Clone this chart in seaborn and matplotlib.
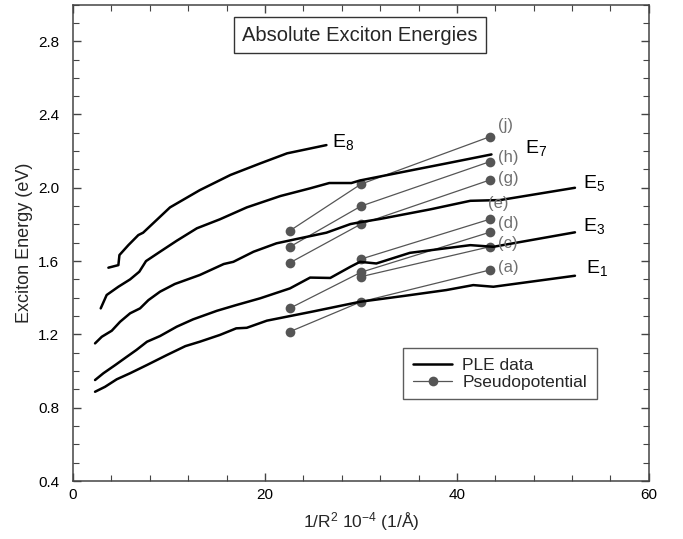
import matplotlib
matplotlib.use("Agg")
import matplotlib.pyplot as plt
from matplotlib.lines import Line2D
import seaborn as sns
import pandas as pd

# ---- PLE data (exciton energies vs 1/R^2) ----
e1_x = [2.29, 3.33, 4.55, 5.94, 7.7, 9.76, 11.7, 13.2, 15.3, 17.0, 18.1, 20.2, 22.6, 25.0, 29.9, 34.5, 38.9, 41.7, 43.8, 52.3]
e1_y = [0.887, 0.914, 0.955, 0.988, 1.033, 1.087, 1.136, 1.16, 1.197, 1.233, 1.236, 1.275, 1.30, 1.325, 1.378, 1.41, 1.442, 1.469, 1.46, 1.52]

e3_x = [2.29, 3.16, 4.4, 5.6, 6.6, 7.7, 9.06, 10.8, 12.5, 15.0, 17.0, 19.5, 22.6, 24.7, 26.8, 28.9, 29.9, 31.6, 35.1, 41.4, 43.8, 52.3]
e3_y = [0.951, 0.988, 1.033, 1.078, 1.115, 1.16, 1.191, 1.242, 1.282, 1.329, 1.36, 1.397, 1.451, 1.51, 1.508, 1.569, 1.596, 1.587, 1.645, 1.687, 1.678, 1.757]

e5_x = [2.29, 2.99, 4.03, 4.9, 5.94, 6.98, 7.85, 9.06, 10.6, 13.2, 15.7, 16.7, 18.8, 21.2, 23.6, 26.4, 28.9, 29.9, 32.0, 37.2, 41.4, 44.5, 52.3]
e5_y = [1.151, 1.187, 1.22, 1.269, 1.315, 1.342, 1.387, 1.433, 1.475, 1.524, 1.584, 1.596, 1.651, 1.697, 1.724, 1.755, 1.802, 1.812, 1.83, 1.882, 1.929, 1.933, 2.0]

e7_x = [2.88, 3.5, 4.72, 5.94, 6.9, 7.6, 9.06, 10.8, 12.9, 15.3, 18.1, 21.6, 24.7, 26.7, 29.0, 29.9, 35.4, 38.9, 43.6]
e7_y = [1.342, 1.415, 1.46, 1.50, 1.542, 1.60, 1.651, 1.711, 1.779, 1.828, 1.893, 1.955, 1.997, 2.026, 2.026, 2.04, 2.097, 2.133, 2.182]

e8_x = [3.68, 4.72, 4.83, 5.76, 6.8, 7.3, 8.7, 10.1, 13.2, 16.4, 19.5, 22.3, 26.4]
e8_y = [1.564, 1.578, 1.633, 1.687, 1.742, 1.755, 1.824, 1.893, 1.987, 2.07, 2.133, 2.188, 2.233]

curve_names = ["E$_1$", "E$_3$", "E$_5$", "E$_7$", "E$_8$"]
curve_label_x = [53.4, 53.1, 53.1, 47.1, 27.0]
curve_label_y = [1.56, 1.79, 2.027, 2.217, 2.25]

# ---- Pseudopotential calculations ----
pp_names = ["(j)", "(h)", "(g)", "(d)", "", "(c)", "(a)"]
pp_x = [[22.6, 30.0, 43.4], [22.6, 30.0, 43.4], [22.6, 30.0, 43.4], [30.0, 43.4],
        [22.6, 30.0, 43.4], [30.0, 43.4], [22.6, 30.0, 43.4]]
pp_y = [[1.766, 2.02, 2.278], [1.678, 1.90, 2.142], [1.591, 1.802, 2.042], [1.611, 1.828],
        [1.343, 1.539, 1.757], [1.515, 1.678], [1.215, 1.378, 1.551]]
pp_label_y = [2.34, 2.167, 2.05, 1.806, None, 1.697, 1.565]
extra_label = "(e)"
extra_label_xy = (43.2, 1.915)

title = "Absolute Exciton Energies"
xlabel = "1/R$^2$ 10$^{-4}$ (1/Å)"
ylabel = "Exciton Energy (eV)"
legend_labels = ["PLE data", "Pseudopotential"]

# ---- build frames ----
ple_rows = []
for name, xs, ys in zip(curve_names, [e1_x, e3_x, e5_x, e7_x, e8_x], [e1_y, e3_y, e5_y, e7_y, e8_y]):
    for xv, yv in zip(xs, ys):
        ple_rows.append({"curve": name, "x": xv, "y": yv})
ple_df = pd.DataFrame(ple_rows)

pp_rows = []
for i, (xs, ys) in enumerate(zip(pp_x, pp_y)):
    for xv, yv in zip(xs, ys):
        pp_rows.append({"series": i, "x": xv, "y": yv})
pp_df = pd.DataFrame(pp_rows)

sns.set_style("ticks")
plt.rcParams["font.family"] = ["Liberation Sans", "DejaVu Sans"]
plt.rcParams["mathtext.default"] = "regular"

fig = plt.figure(figsize=(6.83, 5.39), dpi=100)
ax = fig.add_axes([0.107, 0.1076, 0.843, 0.884])

grey = "#555555"
sns.lineplot(data=pp_df, x="x", y="y", units="series", estimator=None, sort=False,
             color=grey, lw=0.9, marker="o", markersize=7, markeredgewidth=0,
             legend=False, ax=ax)
sns.lineplot(data=ple_df, x="x", y="y", units="curve", estimator=None, sort=False,
             color="black", lw=1.8, legend=False, ax=ax)

for name, lx, ly in zip(curve_names, curve_label_x, curve_label_y):
    ax.text(lx, ly, name, fontsize=14, color="black", ha="left", va="center")

for name, xs, ly in zip(pp_names, pp_x, pp_label_y):
    if name:
        ax.text(xs[-1] + 0.9, ly, name, fontsize=12, color="#707070", ha="left", va="center")
ax.text(extra_label_xy[0], extra_label_xy[1], extra_label, fontsize=12, color="#707070",
        ha="left", va="center")

ax.text(29.9, 2.832, title, fontsize=14.5, ha="center", va="center",
        bbox=dict(boxstyle="square,pad=0.42", fc="white", ec="#333333", lw=1.0))

ax.set_xlim(0, 60)
ax.set_ylim(0.4, 3.0)
ax.set_xticks([0, 20, 40, 60])
ax.set_xticks(range(0, 61, 4), minor=True)
ax.set_yticks([0.4, 0.8, 1.2, 1.6, 2.0, 2.4, 2.8])
ax.set_yticks([0.4 + 0.1 * i for i in range(27)], minor=True)
ax.set_yticklabels(["0.4", "0.8", "1.2", "1.6", "2.0", "2.4", "2.8"])
ax.tick_params(which="both", direction="in", top=True, right=True, color="#444444",
               labelsize=11, labelcolor="black")
ax.tick_params(which="major", length=6, width=1.0)
ax.tick_params(which="minor", length=4, width=0.8)
ax.tick_params(axis="y", pad=10)
ax.tick_params(axis="x", pad=5)
for sp in ax.spines.values():
    sp.set_visible(True)
    sp.set_color("#444444")
    sp.set_linewidth(1.1)

ax.set_xlabel(xlabel, fontsize=12.5, labelpad=6)
ax.set_ylabel(ylabel, fontsize=13, labelpad=4)

handles = [Line2D([], [], color="black", lw=1.8),
           Line2D([], [], color=grey, lw=0.9, marker="o", markersize=7, markeredgewidth=0)]
leg = ax.legend(handles, legend_labels, loc="upper left", bbox_to_anchor=(0.573, 0.279),
                borderaxespad=0, fontsize=12.5, frameon=True, fancybox=False,
                handlelength=2.3, borderpad=0.55, labelspacing=0.1, handletextpad=0.57)
leg.get_frame().set_edgecolor("#333333")
leg.get_frame().set_linewidth(1.0)

fig.savefig("out.png", dpi=100)
